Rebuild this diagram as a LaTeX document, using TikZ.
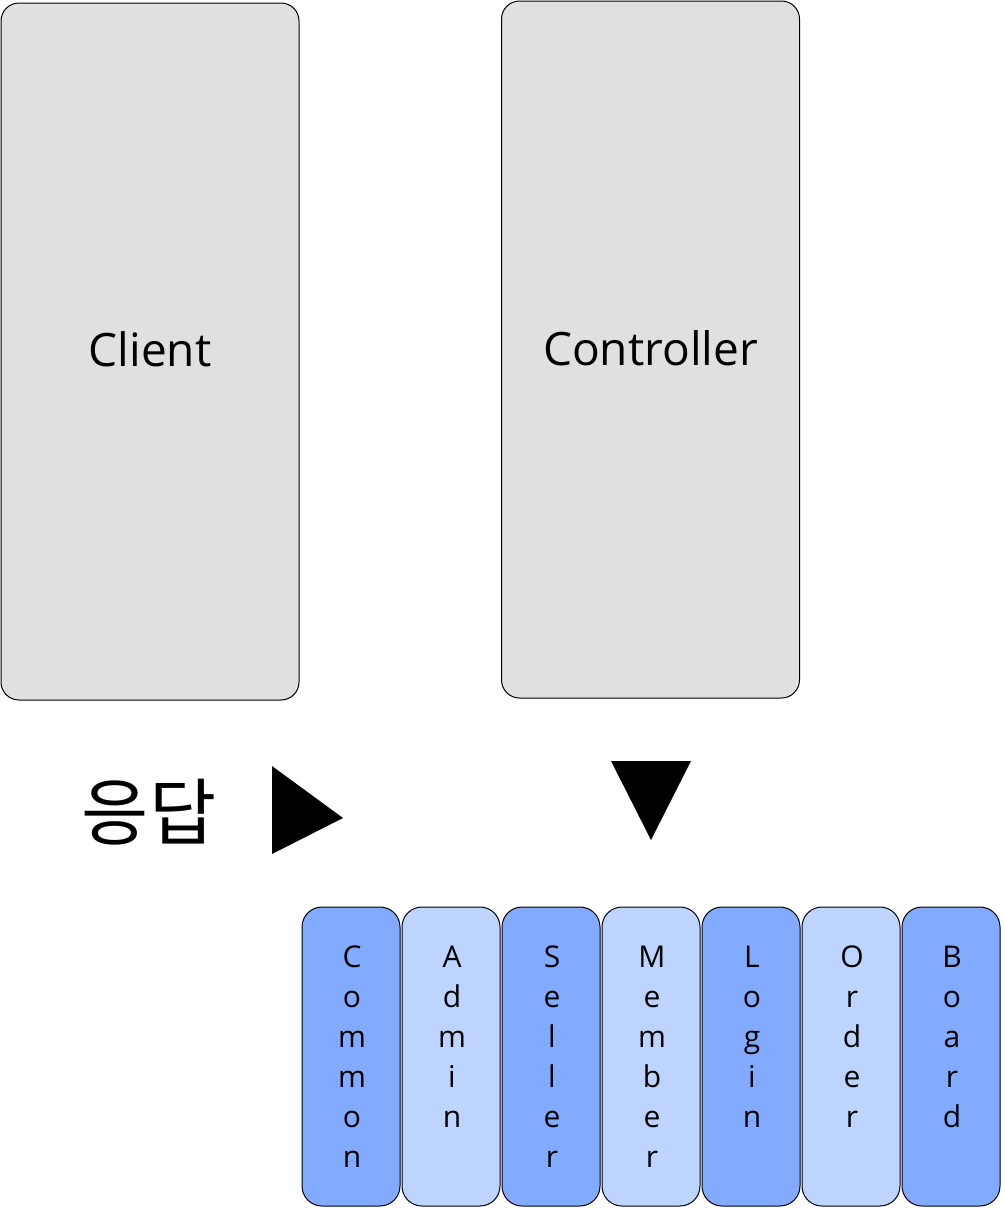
\documentclass[tikz,border=0pt]{standalone}
\usepackage{fontspec}
\setmainfont{Open Sans}
\newfontfamily\krfont{Noto Sans CJK KR}
\definecolor{boxgray}{HTML}{E0E0E0}
\definecolor{bluedark}{HTML}{82AAFF}
\definecolor{bluelight}{HTML}{BDD4FF}
\tikzset{
  bigbox/.style={draw=black, line width=1pt, fill=boxgray, rounded corners=18pt,
    minimum width=298pt, minimum height=697pt, inner sep=0pt,
    font=\fontsize{46}{55}\selectfont},
  modbox/.style={draw=black, line width=1pt, rounded corners=20pt,
    minimum width=98pt, minimum height=299pt, inner sep=0pt},
  letter/.style={anchor=base, inner sep=0pt, font=\fontsize{30}{40}\selectfont},
  arrowtri/.style={fill=black, draw=none}
}
\begin{document}
\begin{tikzpicture}[x=1pt,y=-1pt]
\useasboundingbox (0,0) rectangle (1004,1210);
\node[bigbox] (client) at (150,351.5) {\raisebox{4pt}{Client}};
\node[bigbox] (controller) at (650.5,349.5) {\raisebox{2pt}{Controller}};
\node[inner sep=0pt, font=\krfont\fontsize{73}{80}\selectfont] (resp) at (149,812) {응답};
\fill[arrowtri] (272,766) -- (272,854) -- (343,818) -- cycle;
\fill[arrowtri] (611,761) -- (691,761) -- (651,840) -- cycle;
\foreach \name/\fillc/\word [count=\i from 0] in {common/bluedark/{C,o,m,m,o,n}, admin/bluelight/{A,d,m,i,n}, seller/bluedark/{S,e,l,l,e,r}, member/bluelight/{M,e,m,b,e,r}, login/bluedark/{L,o,g,i,n}, order/bluelight/{O,r,d,e,r}, board/bluedark/{B,o,a,r,d}} {
  \node[modbox, fill=\fillc] (\name) at (351+100*\i,1056.5) {};
  \foreach \ch [count=\j from 0] in \word {
    \node[letter] (\name-\j) at (352+100*\i,967+40*\j) {\ch};
  }
}
\end{tikzpicture}
\end{document}
